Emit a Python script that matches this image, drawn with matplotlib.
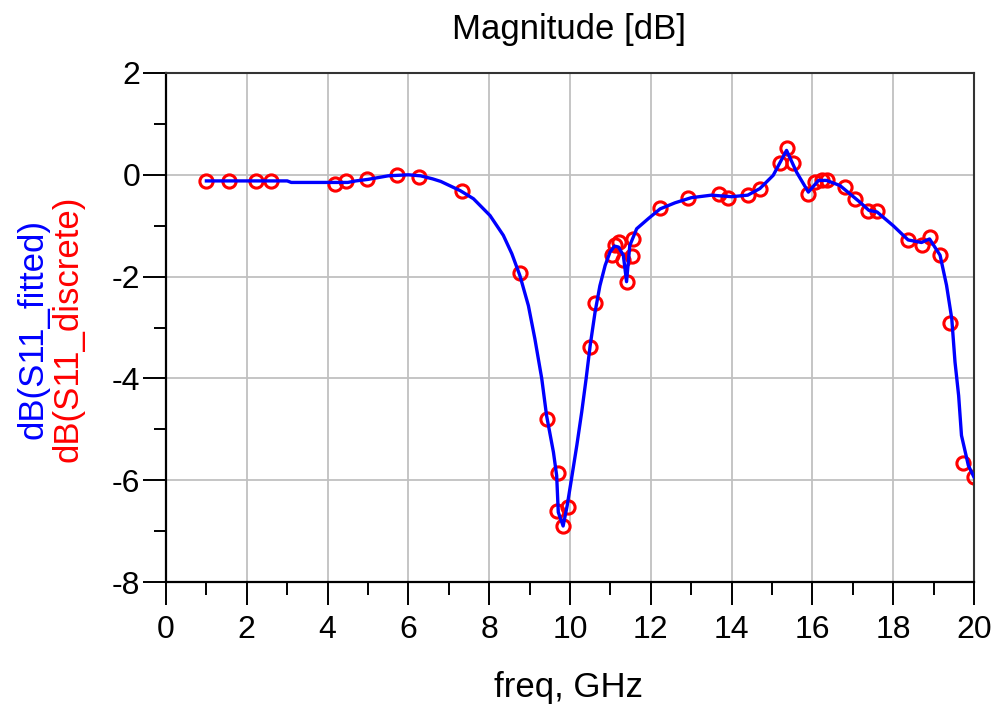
import matplotlib
matplotlib.use("Agg")
import matplotlib.pyplot as plt
from matplotlib.ticker import MultipleLocator

plt.rcParams['font.family'] = ['Liberation Sans', 'DejaVu Sans']
plt.rcParams['axes.unicode_minus'] = False

# discrete (measured) samples
disc_freq = [1.00, 1.56, 2.23, 2.59, 4.18, 4.46, 4.98, 5.72, 6.26, 7.32,
             8.75, 9.42, 9.70, 9.69, 9.83, 9.96, 10.50, 10.62, 11.03, 11.12,
             11.22, 11.32, 11.40, 11.53, 11.57, 12.23, 12.93, 13.68, 13.92, 14.41,
             14.70, 15.20, 15.36, 15.53, 15.90, 16.07, 16.23, 16.35, 16.80, 17.05,
             17.38, 17.59, 18.37, 18.71, 18.90, 19.15, 19.41, 19.74, 20.00]
disc_db = [-0.12, -0.12, -0.12, -0.12, -0.18, -0.12, -0.09, 0.00, -0.05, -0.31,
           -1.93, -4.80, -5.85, -6.60, -6.90, -6.53, -3.39, -2.52, -1.57, -1.38,
           -1.33, -1.68, -2.10, -1.60, -1.26, -0.66, -0.46, -0.38, -0.46, -0.39,
           -0.27, 0.23, 0.52, 0.23, -0.37, -0.14, -0.11, -0.11, -0.24, -0.47,
           -0.72, -0.72, -1.29, -1.37, -1.22, -1.57, -2.92, -5.67, -5.93]

# fitted model curve
fit_freq = [1.0, 2.0, 3.0, 3.1, 4.5, 4.7, 5.0, 5.5, 6.0, 6.3,
            6.6, 6.8, 7.28, 7.61, 8.02, 8.35, 8.56, 8.76, 8.97, 9.13,
            9.30, 9.42, 9.59, 9.67, 9.71, 9.83, 9.93, 10.04, 10.17, 10.29,
            10.40, 10.50, 10.62, 10.74, 10.87, 10.99, 11.10, 11.20, 11.32, 11.40,
            11.48, 11.65, 11.94, 12.23, 12.6, 13.0, 13.5, 14.0, 14.4, 14.7,
            15.03, 15.36, 15.61, 15.90, 16.15, 16.35, 16.68, 17.18, 17.4, 17.6,
            18.0, 18.37, 18.7, 18.9, 19.16, 19.32, 19.45, 19.53, 19.62, 19.69,
            19.86, 20.0]
fit_db = [-0.12, -0.12, -0.12, -0.15, -0.15, -0.12, -0.09, -0.02, 0.00, -0.02,
          -0.08, -0.13, -0.31, -0.47, -0.80, -1.19, -1.55, -1.98, -2.57, -3.22,
          -4.00, -4.73, -5.45, -5.91, -6.63, -6.90, -6.50, -5.96, -5.31, -4.66,
          -4.00, -3.35, -2.70, -2.18, -1.78, -1.52, -1.40, -1.42, -1.58, -2.10,
          -1.39, -1.06, -0.86, -0.67, -0.55, -0.45, -0.40, -0.43, -0.40, -0.27,
          -0.01, 0.48, 0.05, -0.34, -0.11, -0.11, -0.21, -0.54, -0.70, -0.73,
          -1.00, -1.28, -1.33, -1.26, -1.58, -2.17, -2.83, -3.68, -4.34, -5.12,
          -5.71, -5.94]

title_text = "Magnitude [dB]"
xlabel_text = "freq, GHz"
ylabel_fit = "dB(S11_fitted)"
ylabel_disc = "dB(S11_discrete)"

fig = plt.figure(figsize=(9.96, 7.11), dpi=100)
ax = fig.add_axes([166/996, 1-582/711, (974-166)/996, (582-73)/711])

ax.plot(fit_freq, fit_db, color='#0000ff', lw=2.4, zorder=3)
ax.plot(disc_freq, disc_db, linestyle='none', marker='o', ms=9.5, mfc='none',
        mec='#ff0000', mew=2.2, zorder=2)

ax.set_xlim(0, 20)
ax.set_ylim(-8, 2)
ax.xaxis.set_major_locator(MultipleLocator(2))
ax.xaxis.set_minor_locator(MultipleLocator(1))
ax.yaxis.set_major_locator(MultipleLocator(2))
ax.yaxis.set_minor_locator(MultipleLocator(1))
ax.grid(True, which='major', color='#c0c0c0', lw=1.3)
ax.set_axisbelow(True)

ax.tick_params(which='major', direction='out', length=16.5, width=1.4,
               labelsize=23, color='black')
ax.tick_params(which='minor', direction='out', length=9, width=1.4, color='black')
ax.tick_params(axis='x', which='major', pad=7)
ax.tick_params(axis='y', which='major', pad=2)

for side in ['left', 'bottom']:
    ax.spines[side].set_linewidth(1.6)
    ax.spines[side].set_color('black')
for side in ['top', 'right']:
    ax.spines[side].set_linewidth(1.5)
    ax.spines[side].set_color('#333333')

fig.text(569/996, 1-30/711, title_text, ha='center', va='center', fontsize=25)
fig.text(568/996, 1-688/711, xlabel_text, ha='center', va='center', fontsize=25)
fig.text(33/996, 1-329/711, ylabel_fit, ha='center', va='center', rotation=90,
         fontsize=25, color='#0000ff')
fig.text(68/996, 1-329/711, ylabel_disc, ha='center', va='center', rotation=90,
         fontsize=25, color='#ff0000')

fig.savefig("out.png", dpi=100)
